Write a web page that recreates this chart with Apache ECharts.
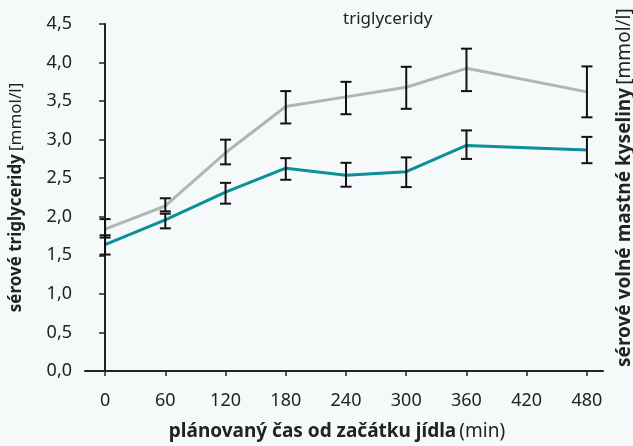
<!DOCTYPE html>
<html>
<head>
<meta charset="utf-8">
<script src="https://cdn.jsdelivr.net/npm/echarts@6/dist/echarts.min.js"></script>
<style>
html,body{margin:0;padding:0;background:#f5f9f9;}
#c{width:633px;height:446px;}
</style>
</head>
<body>
<div id="c"></div>
<script>
// Data
var timePoints = [0, 60, 120, 180, 240, 300, 360, 480];
var xTicks = [0, 60, 120, 180, 240, 300, 360, 420, 480];
var yTicks = [0, 0.5, 1, 1.5, 2, 2.5, 3, 3.5, 4, 4.5];
var trigMean = [1.84, 2.14, 2.83, 3.43, 3.555, 3.68, 3.925, 3.62];
var trigHigh = [1.97, 2.24, 3.00, 3.63, 3.75, 3.945, 4.18, 3.95];
var trigLow  = [1.73, 2.07, 2.68, 3.21, 3.33, 3.40, 3.63, 3.29];
var ffaMean = [1.64, 1.96, 2.32, 2.63, 2.54, 2.585, 2.925, 2.866];
var ffaHigh = [1.76, 2.04, 2.44, 2.76, 2.70, 2.77, 3.12, 3.036];
var ffaLow  = [1.51, 1.85, 2.17, 2.48, 2.39, 2.385, 2.75, 2.695];

var FONT = 'Noto Sans';
var TXT = '#222';

function pairs(xs, ys){ return xs.map(function(x,i){ return [x, ys[i]]; }); }
function errData(xs, lo, hi){ return xs.map(function(x,i){ return [x, lo[i], hi[i]]; }); }

function renderErr(params, api){
  var x = api.value(0);
  var p1 = api.coord([x, api.value(1)]);
  var p2 = api.coord([x, api.value(2)]);
  var hw = 5.5;
  var st = {stroke:'#111', lineWidth:2};
  return {type:'group', children:[
    {type:'line', shape:{x1:p1[0],y1:p1[1],x2:p2[0],y2:p2[1]}, style:st},
    {type:'line', shape:{x1:p1[0]-hw,y1:p1[1],x2:p1[0]+hw,y2:p1[1]}, style:st},
    {type:'line', shape:{x1:p2[0]-hw,y1:p2[1],x2:p2[0]+hw,y2:p2[1]}, style:st}
  ]};
}

var chart = echarts.init(document.getElementById('c'));
chart.setOption({
  backgroundColor:'#f5f9f9',
  animation:false,
  textStyle:{fontFamily:FONT},
  grid:{left:85, right:30, top:24, bottom:69, containLabel:false},
  xAxis:{
    type:'value', min:-20, max:496,
    axisLine:{show:true, onZero:false, lineStyle:{color:TXT, width:2}},
    axisTick:{show:true, length:5, customValues:xTicks, lineStyle:{color:TXT, width:1.5}},
    axisLabel:{customValues:xTicks, margin:21, color:TXT, fontSize:18, fontFamily:FONT},
    splitLine:{show:false},
    name:'{b|plánovaný čas od začátku jídla} {n|(min)}',
    nameLocation:'middle', nameGap:51,
    nameTextStyle:{padding:[0,14,0,0], rich:{
      b:{fontWeight:'bold', fontSize:19, color:TXT, fontFamily:FONT},
      n:{fontSize:19, color:TXT, fontFamily:FONT}
    }}
  },
  yAxis:{
    type:'value', min:0, max:4.5, interval:0.5,
    axisLine:{show:true, lineStyle:{color:TXT, width:2}},
    axisTick:{show:true, length:6, lineStyle:{color:TXT, width:1.5}},
    axisLabel:{margin:13, color:TXT, fontSize:18, fontFamily:FONT,
      formatter:function(v){ return v.toFixed(1).replace('.', ','); }},
    splitLine:{show:false},
    name:'{b|sérové triglyceridy} {n|[mmol/l]}',
    nameLocation:'middle', nameGap:60, nameRotate:90,
    nameTextStyle:{rich:{
      b:{fontWeight:'bold', fontSize:17, color:TXT, fontFamily:FONT},
      n:{fontSize:17, color:TXT, fontFamily:FONT}
    }}
  },
  graphic:[
    {type:'text', left:343, top:11, style:{text:'triglyceridy', fontSize:17, fill:TXT, fontFamily:FONT}},
    {type:'text', x:634, y:367, rotation:Math.PI/2,
      style:{text:'{b|sérové volné mastné kyseliny} {n|[mmol/l]}', textAlign:'left', textVerticalAlign:'bottom',
        rich:{b:{fontWeight:'bold', fontSize:19, fill:TXT, fontFamily:FONT}, n:{fontSize:19, fill:TXT, fontFamily:FONT}}}}
  ],
  series:[
    {type:'line', data:pairs(timePoints, trigMean), showSymbol:false, symbol:'none',
      lineStyle:{color:'#b4b4b4', width:3}, itemStyle:{color:'#b4b4b4'}, z:2},
    {type:'line', data:pairs(timePoints, ffaMean), showSymbol:false, symbol:'none',
      lineStyle:{color:'#0b8f99', width:3}, itemStyle:{color:'#0b8f99'}, z:3},
    {type:'custom', renderItem:renderErr, data:errData(timePoints, trigLow, trigHigh), z:5, encode:{x:0, y:[1,2]}},
    {type:'custom', renderItem:renderErr, data:errData(timePoints, ffaLow, ffaHigh), z:5, encode:{x:0, y:[1,2]}}
  ]
});
</script>
</body>
</html>
